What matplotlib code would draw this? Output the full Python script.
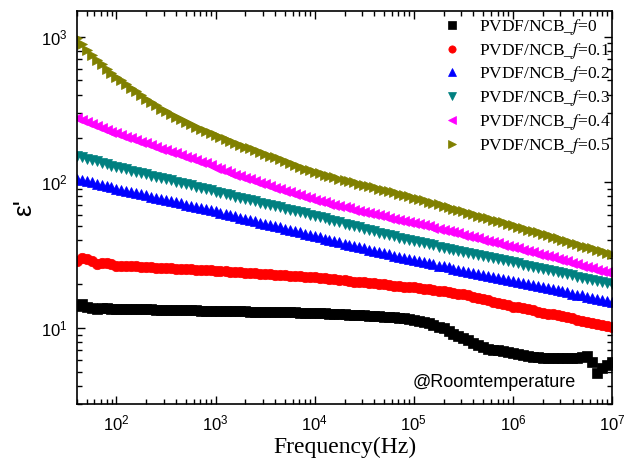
import matplotlib
matplotlib.use('Agg')
import matplotlib.pyplot as plt
from matplotlib.ticker import LogLocator, NullFormatter

plt.rcParams['font.family'] = ['Liberation Sans', 'DejaVu Sans']
plt.rcParams['mathtext.fontset'] = 'stix'

# frequency sweep (Hz)
freq_hz = [
    39.8, 44.7, 50.1, 56.2, 63.1, 70.8, 79.4, 89.1,
    100, 112, 126, 141, 158, 178, 200, 224, 251, 282, 316, 355, 398, 447, 501, 562, 631, 708, 794, 891,
    1.00e3, 1.12e3, 1.26e3, 1.41e3, 1.58e3, 1.78e3, 2.00e3, 2.24e3, 2.51e3, 2.82e3,
    3.16e3, 3.55e3, 3.98e3, 4.47e3, 5.01e3, 5.62e3, 6.31e3, 7.08e3, 7.94e3, 8.91e3,
    1.00e4, 1.12e4, 1.26e4, 1.41e4, 1.58e4, 1.78e4, 2.00e4, 2.24e4, 2.51e4, 2.82e4,
    3.16e4, 3.55e4, 3.98e4, 4.47e4, 5.01e4, 5.62e4, 6.31e4, 7.08e4, 7.94e4, 8.91e4,
    1.00e5, 1.12e5, 1.26e5, 1.41e5, 1.58e5, 1.78e5, 2.00e5, 2.24e5, 2.51e5, 2.82e5,
    3.16e5, 3.55e5, 3.98e5, 4.47e5, 5.01e5, 5.62e5, 6.31e5, 7.08e5, 7.94e5, 8.91e5,
    1.00e6, 1.12e6, 1.26e6, 1.41e6, 1.58e6, 1.78e6, 2.00e6, 2.24e6, 2.51e6, 2.82e6,
    3.16e6, 3.55e6, 3.98e6, 4.47e6, 5.01e6, 5.62e6, 6.31e6, 7.08e6, 7.94e6, 8.91e6,
    1.00e7,
]

eps_f0 = [
    14.2, 14.6, 14.0, 13.7, 13.5, 13.6, 13.6, 13.5,
    13.5, 13.5, 13.5, 13.5, 13.5, 13.4, 13.4, 13.4, 13.3, 13.3, 13.3, 13.3, 13.2, 13.2, 13.2, 13.2, 13.2, 13.1, 13.1, 13.1,
    13.1, 13.1, 13.0, 13.0, 13.0, 13.0, 13.0, 12.9, 12.9, 12.9, 12.9, 12.9, 12.8, 12.8, 12.8, 12.8, 12.8, 12.7, 12.7, 12.7,
    12.7, 12.6, 12.6, 12.5, 12.5, 12.4, 12.4, 12.3, 12.3, 12.2, 12.2, 12.1, 12.1, 12.0, 11.9, 11.9, 11.8, 11.7, 11.6, 11.5,
    11.4, 11.2, 11.0, 10.8, 10.5, 10.2, 9.9, 9.5, 9.1, 8.8, 8.5, 8.2, 7.9, 7.6, 7.4, 7.2, 7.1, 7.0, 6.9, 6.8,
    6.7, 6.6, 6.5, 6.4, 6.3, 6.3, 6.2, 6.2, 6.2, 6.2, 6.2, 6.2, 6.2, 6.2, 6.3, 6.4, 5.8, 4.9, 5.3, 5.6,
    5.8,
]

eps_f01 = [
    29.0, 30.0, 29.6, 28.6, 27.4, 27.7, 27.9, 27.3,
    26.8, 26.7, 26.6, 26.5, 26.4, 26.3, 26.2, 26.0, 25.9, 25.8, 25.7, 25.6, 25.5, 25.4, 25.3, 25.2, 25.1, 25.0, 24.9, 24.8,
    24.7, 24.6, 24.5, 24.3, 24.2, 24.1, 23.9, 23.8, 23.7, 23.6, 23.4, 23.3, 23.2, 23.1, 23.0, 22.8, 22.7, 22.6, 22.5, 22.4,
    22.2, 22.1, 21.9, 21.7, 21.5, 21.4, 21.2, 21.0, 20.8, 20.7, 20.5, 20.3, 20.2, 20.0, 19.9, 19.7, 19.5, 19.4, 19.2, 19.1,
    19.0, 18.8, 18.6, 18.4, 18.2, 18.0, 17.8, 17.6, 17.4, 17.2, 17.1, 16.7, 16.4, 16.1, 15.8, 15.5, 15.1, 14.9, 14.6, 14.3,
    14.0, 13.8, 13.6, 13.4, 13.2, 12.9, 12.7, 12.5, 12.4, 12.2, 12.0, 11.8, 11.6, 11.4, 11.2, 11.0, 10.8, 10.6, 10.4, 10.3,
    10.1,
]

eps_f02 = [
    106, 104, 102, 100, 97.9, 96.2, 94.2, 92.5,
    90.6, 88.9, 87.3, 85.7, 84.3, 82.8, 81.3, 79.8, 78.3, 76.9, 75.7, 74.3, 72.9, 71.6, 70.3, 69.0, 67.8, 66.7, 65.5, 64.3,
    63.1, 61.9, 60.7, 59.5, 58.3, 57.2, 56.1, 55.0, 54.0, 52.9, 51.9, 50.9, 49.9, 48.9, 48.0, 47.0, 46.1, 45.2, 44.4, 43.5,
    42.7, 41.8, 41.0, 40.2, 39.4, 38.7, 37.9, 37.2, 36.5, 35.8, 35.1, 34.4, 33.8, 33.2, 32.6, 32.0, 31.4, 30.8, 30.3, 29.7,
    29.2, 28.7, 28.2, 27.8, 27.3, 26.8, 26.4, 26.0, 25.5, 25.1, 24.7, 24.3, 23.9, 23.5, 23.1, 22.7, 22.3, 22.0, 21.6, 21.3,
    20.9, 20.6, 20.2, 19.9, 19.6, 19.3, 19.0, 18.7, 18.4, 18.1, 17.8, 17.5, 17.2, 16.9, 16.7, 16.4, 16.1, 15.9, 15.6, 15.4,
    15.1,
]

eps_f03 = [
    152, 149, 145, 142, 139, 136, 133, 130,
    128, 125, 123, 120, 118, 116, 114, 111, 109, 107, 105, 103, 101, 98.8, 96.8, 95.1, 93.1, 91.4, 89.5, 87.9,
    86.1, 84.5, 82.9, 81.4, 79.8, 78.3, 76.8, 75.4, 74.0, 72.6, 71.2, 69.9, 68.5, 67.3, 66.0, 64.8, 63.5, 62.4, 61.2, 60.0,
    58.9, 57.7, 56.5, 55.3, 54.2, 53.1, 52.0, 50.9, 49.9, 48.9, 47.9, 46.9, 46.0, 45.1, 44.3, 43.4, 42.6, 41.7, 40.9, 40.1,
    39.4, 38.7, 38.1, 37.4, 36.8, 36.2, 35.6, 35.0, 34.4, 33.9, 33.3, 32.8, 32.2, 31.7, 31.2, 30.6, 30.1, 29.6, 29.1, 28.7,
    28.2, 27.7, 27.2, 26.8, 26.3, 25.9, 25.4, 25.0, 24.5, 24.1, 23.7, 23.3, 22.9, 22.5, 22.1, 21.8, 21.4, 21.0, 20.7, 20.3,
    20.0,
]

eps_f04 = [
    275, 266, 258, 250, 243, 236, 229, 223,
    217, 211, 205, 200, 195, 189, 185, 179, 175, 170, 166, 162, 158, 153, 150, 146, 142, 138, 135, 131,
    126, 123, 119, 116, 113, 110, 107, 105, 102, 99.2, 96.6, 94.2, 92.0, 89.7, 87.5, 85.4, 83.3, 81.3, 79.3, 77.4,
    75.5, 74.1, 72.7, 71.3, 70.0, 68.6, 67.3, 66.1, 64.8, 63.6, 62.4, 61.3, 60.3, 59.2, 58.2, 57.2, 56.2, 55.3, 54.3, 53.4,
    52.5, 51.5, 50.6, 49.7, 48.8, 47.9, 47.0, 46.1, 45.3, 44.5, 43.7, 42.8, 42.0, 41.2, 40.4, 39.6, 38.8, 38.1, 37.3, 36.6,
    35.9, 35.2, 34.5, 33.8, 33.1, 32.4, 31.7, 31.1, 30.5, 29.8, 29.2, 28.6, 28.0, 27.4, 26.8, 26.2, 25.7, 25.1, 24.6, 24.1,
    23.6,
]

eps_f05 = [
    980, 891, 813, 750, 692, 646, 603, 566,
    532, 501, 473, 447, 422, 398, 376, 356, 337, 321, 307, 294, 282, 270, 260, 250, 241, 233, 225, 218,
    211, 204, 198, 192, 186, 181, 176, 171, 166, 161, 157, 152, 148, 144, 140, 136, 132, 128, 124, 121,
    117, 115, 113, 111, 108, 106, 104, 102, 100, 97.9, 96.0, 94.2, 92.3, 90.4, 88.6, 86.9, 85.1, 83.4, 81.8, 80.2,
    78.5, 76.8, 75.2, 73.6, 71.9, 70.4, 68.9, 67.4, 65.9, 64.5, 63.1, 61.7, 60.4, 59.1, 57.8, 56.6, 55.3, 54.1, 53.0, 51.8,
    50.7, 49.5, 48.4, 47.3, 46.2, 45.2, 44.2, 43.2, 42.2, 41.2, 40.3, 39.4, 38.5, 37.6, 36.7, 35.9, 35.1, 34.3, 33.5, 32.7,
    32.0,
]

series = [eps_f0, eps_f01, eps_f02, eps_f03, eps_f04, eps_f05]
labels = ['0', '0.1', '0.2', '0.3', '0.4', '0.5']
colors = ['#000000', '#ff0000', '#0000ff', '#008080', '#ff00ff', '#808000']
markers = ['s', 'o', '^', 'v', '<', '>']

fig = plt.figure(figsize=(6.24, 4.65), dpi=100)
ax = fig.add_axes([0.1234, 0.1312, 0.8574, 0.8451])

for vals, lab, c, m in zip(series, labels, colors, markers):
    ax.plot(freq_hz, vals, linestyle='none', marker=m, markersize=7.5,
            color=c, markeredgecolor=c, markeredgewidth=0.5,
            label='PVDF/NCB_$\\it{f}$=' + lab)

ax.set_xscale('log')
ax.set_yscale('log')
ax.set_xlim(40, 1e7)
ax.set_ylim(3, 1500)

ax.xaxis.set_minor_locator(LogLocator(base=10, subs=range(2, 10), numticks=20))
ax.yaxis.set_minor_locator(LogLocator(base=10, subs=range(2, 10), numticks=20))
ax.xaxis.set_minor_formatter(NullFormatter())
ax.yaxis.set_minor_formatter(NullFormatter())

ax.tick_params(which='both', direction='in', top=True, right=True, width=1.0)
ax.tick_params(which='major', length=6, labelsize=12, pad=7)
ax.tick_params(which='minor', length=3.5)
for sp in ax.spines.values():
    sp.set_linewidth(1.2)

ax.set_xlabel('Frequency(Hz)', family='Liberation Serif', fontsize=17, labelpad=2)
ax.set_ylabel("ε'", fontsize=19, labelpad=3)

ax.text(0.78, 0.055, '@Roomtemperature', transform=ax.transAxes,
        fontsize=13, ha='center', va='center')

leg = ax.legend(loc='upper right', bbox_to_anchor=(1.004, 0.994), frameon=False,
                prop={'family': 'Liberation Serif', 'size': 12.5},
                markerscale=0.7, handlelength=1.0, handletextpad=1.05,
                labelspacing=0.22, borderaxespad=0.0, borderpad=0.2)

fig.savefig('out.png', dpi=100)
